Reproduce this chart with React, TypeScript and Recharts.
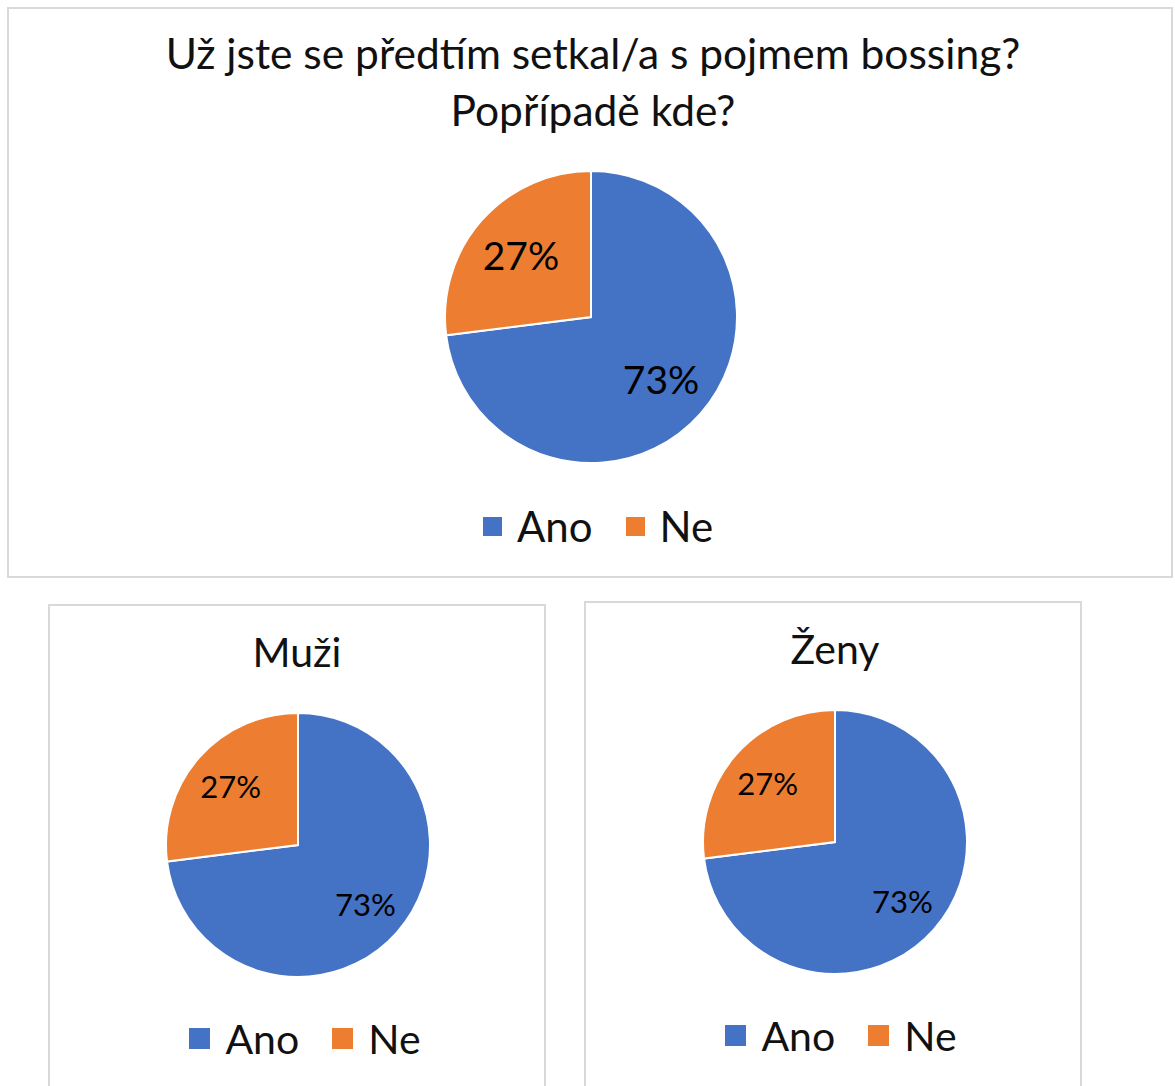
import React from 'react';
import { PieChart, Pie, Cell, Legend } from 'recharts';

// answers and shares (%)
const categories = ['Ano', 'Ne'];
const allValues = [73, 27];
const menValues = [73, 27];
const womenValues = [73, 27];

const titleLines = ['Už jste se předtím setkal/a s pojmem bossing?', 'Popřípadě kde?'];
const menTitle = 'Muži';
const womenTitle = 'Ženy';

const COLORS = ['#4472C4', '#ED7D31'];
const FONT = 'Lato, "Open Sans", sans-serif';
const TEXT = '#111';

const toRows = (values: number[]) => categories.map((name, i) => ({ name, value: values[i] }));

const RAD = Math.PI / 180;

const makeLabel = (ratio: number, size: number) => (props: any) => {
  const { cx, cy, midAngle, outerRadius, value } = props;
  const r = outerRadius * ratio;
  const x = cx + r * Math.cos(-midAngle * RAD);
  const y = cy + r * Math.sin(-midAngle * RAD);
  return (
    <text x={x} y={y} fill="#000" fontSize={size} fontFamily={FONT} textAnchor="middle" dominantBaseline="central">
      {value}%
    </text>
  );
};

const makeLegend = (box: number, size: number, gap: number, shift: number) => () => (
  <div
    style={{
      display: 'flex',
      justifyContent: 'center',
      alignItems: 'center',
      gap: gap,
      fontFamily: FONT,
      position: 'relative',
      left: shift,
    }}
  >
    {categories.map((c, i) => (
      <div key={c} style={{ display: 'flex', alignItems: 'center' }}>
        <span style={{ width: box, height: box, background: COLORS[i], display: 'inline-block', marginRight: 15 }} />
        <span style={{ fontSize: size, color: TEXT, lineHeight: 1 }}>{c}</span>
      </div>
    ))}
  </div>
);

interface PanelProps {
  left: number;
  top: number;
  width: number;
  height: number;
  title: string[];
  titleSize: number;
  titleTop: number;
  values: number[];
  cx: number;
  cy: number;
  radius: number;
  labelRatio: number;
  labelSize: number;
  legendTop: number;
  legendBox: number;
  legendSize: number;
  legendGap: number;
  titleCx: number;
}

const Panel: React.FC<PanelProps> = (p) => (
  <div
    style={{
      position: 'absolute',
      left: p.left,
      top: p.top,
      width: p.width,
      height: p.height,
      border: '2px solid #d9d9d9',
      boxSizing: 'border-box',
      background: '#fff',
    }}
  >
    {p.title.map((t, i) => (
      <div
        key={i}
        style={{
          position: 'absolute',
          left: p.titleCx - 600,
          width: 1200,
          top: p.titleTop + i * 57,
          textAlign: 'center',
          fontFamily: FONT,
          fontSize: p.titleSize,
          color: TEXT,
          lineHeight: '40px',
          whiteSpace: 'nowrap',
        }}
      >
        {t}
      </div>
    ))}
    <div style={{ position: 'absolute', left: -2, top: -2 }}>
      <PieChart width={p.width} height={p.height} margin={{ top: 0, right: 0, bottom: 0, left: 0 }}>
        <Pie
          data={toRows(p.values)}
          dataKey="value"
          nameKey="name"
          cx={p.cx}
          cy={p.cy}
          outerRadius={p.radius}
          startAngle={90}
          endAngle={-270}
          stroke="#fff"
          strokeWidth={2}
          label={makeLabel(p.labelRatio, p.labelSize)}
          labelLine={false}
          isAnimationActive={false}
        >
          {categories.map((c, i) => (
            <Cell key={c} fill={COLORS[i]} />
          ))}
        </Pie>
        <Legend
          content={makeLegend(p.legendBox, p.legendSize, p.legendGap, 8)}
          wrapperStyle={{ position: 'absolute', left: 0, width: p.width, top: p.legendTop }}
        />
      </PieChart>
    </div>
  </div>
);

export default function App() {
  return (
    <div style={{ position: 'absolute', left: 0, top: 0, width: 1175, height: 1086, overflow: 'hidden', background: '#fff' }}>
      <Panel
        left={7}
        top={7}
        width={1166}
        height={571}
        title={titleLines}
        titleSize={42.5}
        titleTop={24}
        titleCx={584}
        values={allValues}
        cx={584}
        cy={310}
        radius={146}
        labelRatio={0.64}
        labelSize={39}
        legendTop={498}
        legendBox={19}
        legendSize={42}
        legendGap={33}
      />
      <Panel
        left={48}
        top={604}
        width={498}
        height={500}
        title={[menTitle]}
        titleSize={41}
        titleTop={26}
        titleCx={247}
        values={menValues}
        cx={250}
        cy={241}
        radius={132}
        labelRatio={0.68}
        labelSize={31}
        legendTop={414}
        legendBox={21}
        legendSize={41}
        legendGap={33}
      />
      <Panel
        left={584}
        top={601}
        width={498}
        height={500}
        title={[womenTitle]}
        titleSize={41}
        titleTop={26}
        titleCx={249}
        values={womenValues}
        cx={251}
        cy={241}
        radius={132}
        labelRatio={0.68}
        labelSize={31}
        legendTop={414}
        legendBox={21}
        legendSize={41}
        legendGap={33}
      />
    </div>
  );
}
